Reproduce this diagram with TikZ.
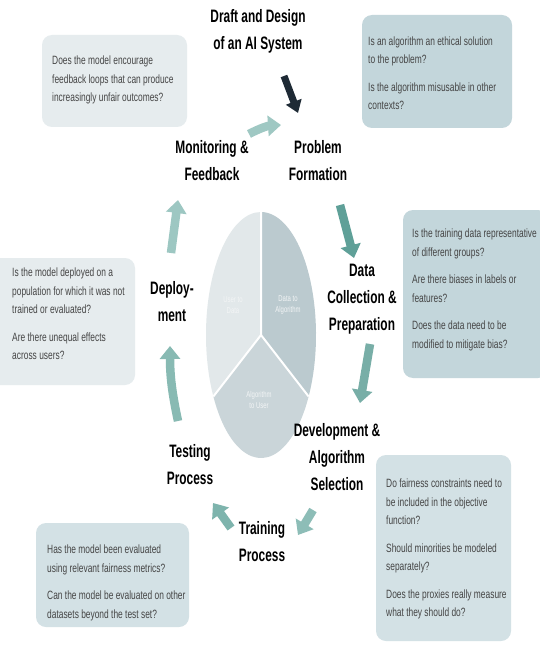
\documentclass[tikz,border=0pt]{standalone}
\usepackage{fontspec}
\setmainfont[FakeStretch=0.70]{Liberation Sans}
\newfontfamily\stagefont[FakeStretch=0.66]{Liberation Sans}
\usetikzlibrary{arrows.meta}

\definecolor{boxpale}{HTML}{E6ECEE}
\definecolor{boxblue}{HTML}{C3D6DB}
\definecolor{boxmid}{HTML}{D3E1E5}
\definecolor{qgrey}{HTML}{454545}
\definecolor{pieleft}{HTML}{E2E8EA}
\definecolor{pieright}{HTML}{BBCACF}
\definecolor{piebottom}{HTML}{CAD5D9}
\definecolor{pietext}{HTML}{F3F5F6}
\definecolor{navy}{HTML}{1E2A35}
\definecolor{tealA}{HTML}{9FC8C3}
\definecolor{tealB}{HTML}{5FA098}
\definecolor{tealC}{HTML}{78AEA7}
\definecolor{tealD}{HTML}{8DBDB7}
\definecolor{tealE}{HTML}{7EB4AD}
\definecolor{tealF}{HTML}{88BAB3}
\definecolor{tealG}{HTML}{9DC7C2}

\begin{document}
\begin{tikzpicture}[x=1pt,y=-1pt,
  stage/.style={font=\stagefont\fontsize{18}{27}\selectfont\bfseries, align=center, text=black, inner sep=0pt},
  qbox/.style={rounded corners=10pt, inner sep=0pt},
  qtext/.style={font=\fontsize{12}{18.5}\selectfont, text=qgrey, align=left, inner sep=0pt, anchor=west},
  slice/.style={draw=white, line width=2pt, line join=round},
  slicetext/.style={font=\fontsize{8.5}{11}\selectfont, text=pietext, align=center, inner sep=0pt},
  flow/.style={line width=8.5pt, -{Triangle[width=20pt,length=13pt]}},
]
\useasboundingbox (0,0) rectangle (540,655);
\fill[white] (0,0) rectangle (540,655);

% question boxes
\node[qbox, fill=boxpale, minimum width=145pt, minimum height=92pt] (q1box) at (114.5,81) {};
\node[qtext] (q1) at (52,80) {Does the model encourage\\feedback loops that can produce\\increasingly unfair outcomes?};

\node[qbox, fill=boxblue, minimum width=150pt, minimum height=113pt] (q2box) at (437,71.5) {};
\node[qtext] (q2) at (368,73) {Is an algorithm an ethical solution\\to the problem?\\[9pt]Is the algorithm misusable in other\\contexts?};

\node[qbox, fill=boxblue, minimum width=145pt, minimum height=168pt] (q3box) at (475.5,294) {};
\node[qtext] (q3) at (412,290) {Is the training data representative\\of different groups?\\[9pt]Are there biases in labels or\\features?\\[9pt]Does the data need to be\\modified to mitigate bias?};

\node[qbox, fill=boxpale, minimum width=145pt, minimum height=127pt] (q4box) at (62.5,321.5) {};
\node[qtext] (q4) at (12,314) {Is the model deployed on a\\population for which it was not\\trained or evaluated?\\[9pt]Are there unequal effects\\across users?};

\node[qbox, fill=boxmid, minimum width=135pt, minimum height=186pt] (q5box) at (443.5,548) {};
\node[qtext] (q5) at (386,549) {Do fairness constraints need to\\be included in the objective\\function?\\[9pt]Should minorities be modeled\\separately?\\[9pt]Does the proxies really measure\\what they should do?};

\node[qbox, fill=boxmid, minimum width=153pt, minimum height=104pt] (q6box) at (112.5,575) {};
\node[qtext] (q6) at (47,583) {Has the model been evaluated\\using relevant fairness metrics?\\[9pt]Can the model be evaluated on other\\datasets beyond the test set?};

% central pie, three stretched sectors
\begin{scope}[shift={(261,335)}, x=55pt, y=123pt]
  \fill[pieleft] (0,0) -- (90:1) arc (90:210:1) -- cycle;
  \fill[pieright] (0,0) -- (-30:1) arc (-30:90:1) -- cycle;
  \fill[piebottom] (0,0) -- (210:1) arc (210:330:1) -- cycle;
  \draw[slice] (90:1) -- (0,0) -- (210:1);
  \draw[slice] (0,0) -- (-30:1);
\end{scope}
\node[slicetext] (s1) at (233,305) {User to\\Data};
\node[slicetext] (s2) at (288,305) {Data to\\Algorithm};
\node[slicetext] (s3) at (259,400) {Algorithm\\to User};

% stage labels
\node[stage] (draft) at (258,31) {Draft and Design\\of an AI System};
\node[stage] (mon) at (212,161) {Monitoring \&\\Feedback};
\node[stage] (prob) at (318,161) {Problem\\Formation};
\node[stage] (data) at (362,299) {Data\\Collection \&\\Preparation};
\node[stage] (dev) at (337,457) {Development \&\\Algorithm\\Selection};
\node[stage] (train) at (262,542) {Training\\Process};
\node[stage] (test) at (190,465) {Testing\\Process};
\node[stage] (dep) at (172,302) {Deploy-\\ment};

% arrow end points beside the labels
\coordinate (draft-out) at (284,76);
\coordinate (prob-top) at (298,113);
\coordinate (mon-out) at (249,134);
\coordinate (prob-in) at (281,125);
\coordinate (prob-out) at (340,205);
\coordinate (data-in) at (354,258);
\coordinate (data-out) at (370,344);
\coordinate (dev-in) at (360,403);
\coordinate (dev-out) at (313,510);
\coordinate (train-in) at (298,535);
\coordinate (train-out) at (231,528);
\coordinate (test-in) at (213,503);
\coordinate (test-out) at (178,421);
\coordinate (dep-in) at (170,346);
\coordinate (dep-out) at (171,253);
\coordinate (mon-in) at (178,200);

% process flow
\draw[flow, navy, line width=7pt, -{Triangle[width=16pt,length=12pt]}] (draft-out) -- (prob-top);
\draw[flow, tealA] (mon-out) to[bend left=12] (prob-in);
\draw[flow, tealB] (prob-out) -- (data-in);
\draw[flow, tealC] (data-out) -- (dev-in);
\draw[flow, tealD] (dev-out) -- (train-in);
\draw[flow, tealE] (train-out) -- (test-in);
\draw[flow, tealF] (test-out) to[bend left=6] (dep-in);
\draw[flow, tealG] (dep-out) -- (mon-in);
\end{tikzpicture}
\end{document}
